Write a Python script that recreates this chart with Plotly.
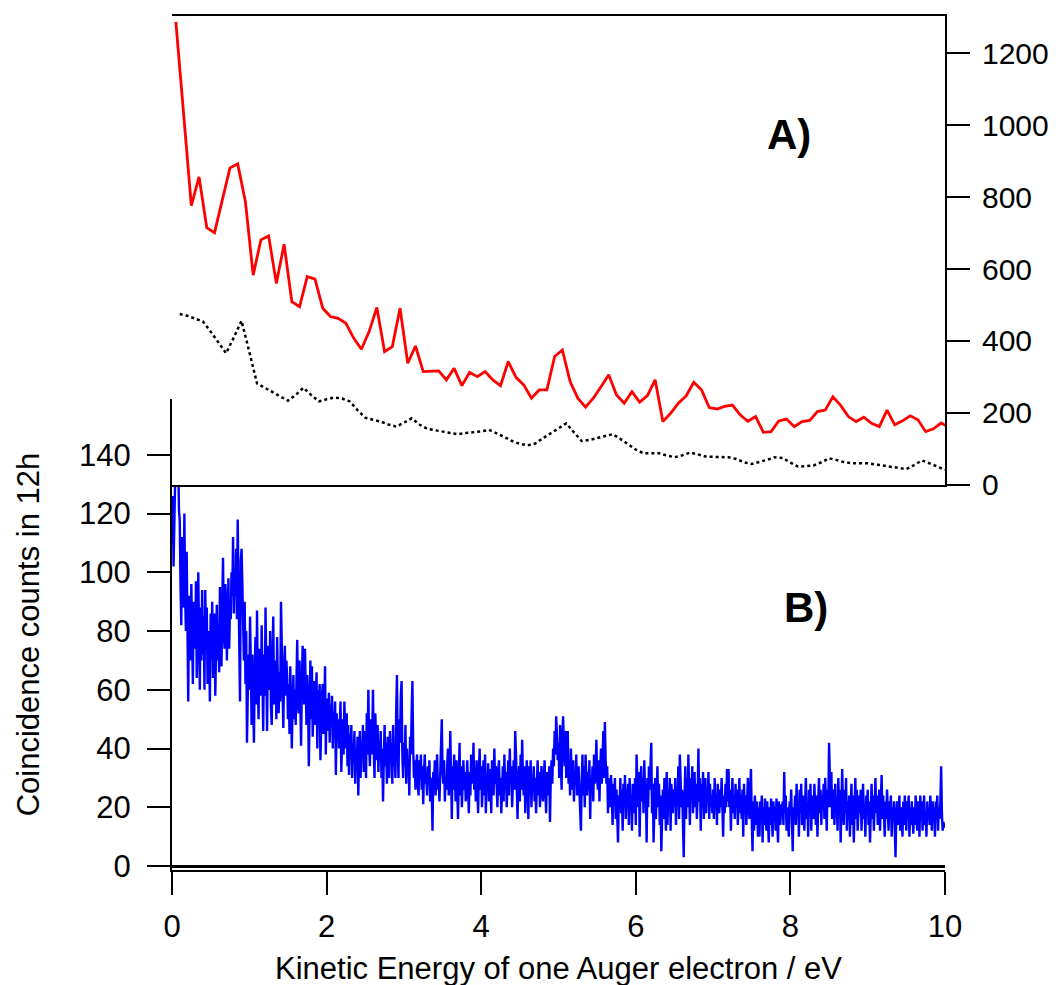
import numpy as np
import plotly.graph_objects as go

# panel B: coincidence counts, 0.01 eV bins starting at 0 (one row = 0.1 eV)
blue_step = 0.01
blue_counts = [
    110, 126, 102, 118, 130, 150, 159, 134, 140, 121,
    118, 96, 82, 112, 104, 88, 120, 92, 80, 107,
    72, 56, 92, 80, 70, 96, 84, 62, 90, 85,
    74, 97, 64, 88, 100, 78, 60, 88, 70, 94,
    72, 85, 60, 94, 76, 88, 62, 80, 74, 56,
    86, 70, 90, 64, 75, 86, 58, 80, 89, 70,
    82, 66, 95, 74, 68, 88, 105, 80, 74, 96,
    90, 70, 82, 98, 74, 88, 84, 100, 92, 112,
    86, 100, 92, 108, 84, 118, 96, 76, 56, 104,
    108, 96, 84, 70, 90, 62, 80, 42, 58, 72,
    60, 85, 68, 48, 72, 54, 42, 66, 78, 55,
    87, 62, 50, 74, 70, 58, 82, 64, 46, 72,
    58, 88, 66, 46, 75, 60, 62, 80, 54, 48,
    70, 85, 55, 64, 70, 50, 78, 62, 52, 66,
    56, 90, 72, 60, 47, 66, 75, 58, 70, 64,
    50, 62, 45, 68, 58, 40, 55, 65, 50, 60,
    48, 72, 77, 55, 52, 70, 44, 41, 62, 75,
    68, 55, 74, 60, 48, 65, 56, 34, 60, 70,
    50, 68, 44, 58, 63, 48, 56, 66, 40, 60,
    52, 62, 36, 55, 58, 62, 45, 52, 68, 38,
    57, 46, 50, 59, 42, 55, 48, 58, 40, 52,
    48, 56, 31, 52, 44, 50, 40, 47, 56, 32,
    44, 50, 38, 56, 46, 40, 52, 34, 48, 31,
    45, 38, 48, 30, 42, 36, 46, 28, 40, 34,
    44, 24, 38, 46, 30, 42, 36, 48, 32, 40,
    46, 30, 52, 38, 60, 42, 34, 50, 38, 44,
    60, 40, 30, 52, 44, 36, 48, 32, 42, 38,
    46, 30, 40, 22, 36, 48, 34, 42, 28, 44,
    38, 30, 46, 36, 42, 28, 48, 34, 40, 30,
    52, 65, 40, 30, 50, 42, 58, 63, 38, 30,
    42, 34, 48, 28, 40, 32, 36, 24, 44, 38,
    52, 63, 40, 30, 36, 26, 34, 38, 28, 24,
    36, 30, 38, 26, 34, 21, 32, 38, 28, 30,
    24, 34, 28, 36, 22, 30, 26, 12, 32, 28,
    36, 24, 32, 38, 26, 30, 22, 34, 44, 50,
    32, 28, 36, 22, 30, 26, 34, 40, 24, 30,
    46, 28, 16, 34, 26, 38, 30, 22, 36, 28,
    16, 30, 42, 24, 34, 20, 28, 36, 26, 32,
    22, 30, 36, 26, 18, 32, 24, 38, 30, 28,
    42, 26, 34, 22, 36, 28, 18, 32, 40, 26,
    34, 20, 28, 36, 24, 38, 18, 30, 26, 35,
    22, 33, 28, 18, 36, 30, 24, 40, 28, 34,
    26, 20, 32, 36, 24, 30, 18, 28, 34, 22,
    38, 26, 32, 20, 30, 36, 24, 40, 28, 34,
    20, 30, 36, 26, 46, 38, 30, 16, 28, 34,
    22, 38, 26, 43, 30, 24, 34, 18, 30, 36,
    28, 16, 34, 24, 36, 20, 30, 26, 34, 22,
    30, 18, 28, 36, 24, 32, 20, 28, 34, 26,
    22, 30, 36, 26, 18, 32, 28, 24, 34, 15,
    30, 36, 28, 40, 34, 46, 38, 51, 44, 36,
    42, 30, 48, 38, 26, 44, 51, 40, 34, 46,
    30, 38, 46, 28, 36, 24, 40, 32, 26, 36,
    22, 32, 28, 38, 24, 30, 34, 26, 20, 12,
    28, 38, 24, 34, 20, 38, 30, 24, 32, 26,
    36, 16, 30, 26, 34, 22, 38, 28, 32, 43,
    30, 26, 36, 22, 34, 40, 28, 38, 46, 30,
    49, 36, 28, 34, 18, 30, 26, 20, 31, 24,
    14, 28, 22, 30, 16, 26, 18, 8, 24, 20,
    30, 18, 26, 12, 28, 20, 31, 16, 26, 22,
    28, 14, 30, 20, 24, 12, 28, 22, 18, 30,
    14, 38, 26, 20, 32, 10, 28, 34, 22, 30,
    18, 36, 24, 28, 8, 30, 20, 34, 26, 38,
    42, 18, 28, 8, 24, 30, 16, 26, 34, 20,
    28, 14, 24, 5, 20, 26, 16, 30, 22, 12,
    32, 14, 26, 20, 30, 12, 28, 24, 18, 26,
    20, 30, 14, 26, 22, 34, 16, 38, 24, 20,
    26, 10, 3, 22, 34, 16, 30, 20, 38, 26,
    14, 30, 22, 34, 18, 26, 32, 20, 28, 16,
    24, 40, 22, 30, 12, 28, 20, 32, 16, 24,
    30, 18, 26, 22, 32, 16, 28, 20, 24, 18,
    26, 16, 30, 20, 24, 14, 28, 22, 18, 26,
    20, 30, 14, 10, 24, 18, 28, 20, 33, 22,
    33, 20, 26, 12, 22, 30, 18, 24, 16, 28,
    20, 26, 14, 22, 30, 18, 24, 16, 26, 10,
    28, 18, 24, 14, 22, 30, 20, 16, 26, 33,
    16, 5, 22, 12, 24, 18, 14, 22, 10, 20,
    10, 22, 16, 24, 8, 20, 14, 23, 18, 12,
    22, 16, 8, 20, 14, 23, 18, 10, 22, 16,
    20, 12, 23, 16, 8, 22, 18, 14, 21, 17,
    22, 14, 32, 18, 24, 12, 20, 16, 10, 22,
    18, 26, 12, 5, 20, 16, 24, 14, 28, 18,
    22, 10, 26, 18, 28, 14, 24, 20, 12, 26,
    30, 16, 22, 10, 26, 18, 28, 12, 24, 20,
    16, 28, 20, 14, 24, 10, 22, 30, 18, 26,
    14, 24, 20, 28, 16, 30, 22, 12, 26, 20,
    42, 28, 20, 32, 16, 26, 22, 14, 28, 18,
    22, 12, 30, 18, 26, 8, 24, 33, 20, 14,
    26, 18, 30, 12, 22, 16, 24, 10, 20, 28,
    14, 24, 8, 22, 30, 16, 26, 12, 20, 24,
    18, 26, 12, 22, 28, 16, 20, 10, 24, 18,
    26, 14, 22, 8, 20, 28, 16, 24, 12, 22,
    30, 18, 24, 14, 20, 26, 12, 22, 31, 16,
    24, 18, 10, 22, 16, 26, 20, 12, 22, 18,
    24, 10, 20, 16, 22, 12, 3, 18, 22, 14,
    16, 24, 12, 20, 18, 10, 22, 14, 24, 18,
    12, 22, 16, 24, 10, 20, 14, 22, 18, 11,
    20, 14, 24, 16, 12, 22, 18, 10, 24, 16,
    22, 12, 20, 24, 14, 18, 10, 22, 16, 20,
    14, 24, 18, 12, 22, 16, 20, 10, 22, 18,
    24, 12, 20, 16, 22, 34, 18, 12, 15, 13,
]
blue_energy = np.arange(len(blue_counts)) * blue_step

# panel A: red spectrum, 0.1 eV bins centred at 0.05 ... 10.05
red_energy = np.round(np.arange(0.05, 10.1, 0.1), 2)
red_counts = [
    1287, 1020, 776, 856, 715, 701, 795, 881, 892, 787,
    583, 681, 692, 560, 669, 509, 495, 579, 572, 491,
    468, 463, 449, 408, 377, 426, 493, 370, 384, 491,
    338, 386, 315, 315, 317, 292, 324, 276, 313, 301,
    315, 292, 276, 343, 299, 278, 241, 264, 264, 357,
    375, 287, 241, 216, 241, 273, 306, 250, 227, 259,
    230, 248, 292, 176, 199, 227, 247, 285, 264, 215,
    211, 218, 222, 195, 177, 190, 146, 148, 178, 183,
    162, 176, 179, 204, 208, 245, 221, 190, 176, 188,
    171, 162, 208, 167, 178, 192, 181, 148, 156, 172,
    160,
]

# panel A: black dotted spectrum, 0.1 ... 10.0 eV
black_energy = np.round(np.arange(0.1, 10.05, 0.1), 2)
black_counts = [
    475, 470, 462, 454, 426, 395, 366, 410, 456, 370,
    282, 270, 258, 245, 234, 250, 270, 250, 232, 238,
    243, 240, 232, 208, 187, 181, 176, 168, 162, 173,
    185, 168, 156, 152, 148, 145, 141, 144, 146, 149,
    153, 144, 133, 122, 114, 110, 115, 130, 143, 156,
    171, 146, 122, 125, 131, 136, 141, 128, 114, 98,
    88, 88, 88, 82, 77, 82, 90, 85, 79, 78,
    77, 77, 72, 63, 58, 63, 70, 77, 75, 62,
    51, 52, 54, 63, 74, 69, 63, 60, 60, 60,
    57, 54, 51, 47, 44, 55, 68, 60, 50, 42,
]

font = "Liberation Sans, Arial, sans-serif"

fig = go.Figure()
fig.add_trace(go.Scatter(x=blue_energy, y=blue_counts, mode="lines",
                         line=dict(color="#0000ff", width=2.4), xaxis="x", yaxis="y"))
fig.add_trace(go.Scatter(x=black_energy, y=black_counts, mode="lines",
                         line=dict(color="black", width=2.5, dash="dot"), xaxis="x2", yaxis="y2"))
fig.add_trace(go.Scatter(x=red_energy, y=red_counts, mode="lines",
                         line=dict(color="#ff0000", width=2.8), xaxis="x2", yaxis="y2"))

# the page body adds an 8 px offset top/left, margins compensate for it
fig.update_layout(
    width=1056, height=985, autosize=False,
    margin=dict(l=164, r=119, t=6, b=123),
    plot_bgcolor="white", paper_bgcolor="white",
    showlegend=False,
    font=dict(family=font, color="black", size=31),
    xaxis=dict(range=[0, 10], domain=[0, 1], anchor="y",
               showline=True, linecolor="black", linewidth=2,
               ticks="outside", ticklen=23, tickwidth=2, tickcolor="black",
               tickvals=[0, 2, 4, 6, 8, 10], showgrid=False, zeroline=False,
               tickfont=dict(size=31), ticklabelstandoff=5,
               title=dict(text="Kinetic Energy of one Auger electron / eV",
                          font=dict(size=31), standoff=14)),
    yaxis=dict(range=[-1.36, 159.0], domain=[0, 0.5514], anchor="x",
               showline=True, linecolor="black", linewidth=2,
               ticks="outside", ticklen=23, tickwidth=2, tickcolor="black",
               tickvals=[0, 20, 40, 60, 80, 100, 120, 140], showgrid=False,
               zeroline=True, zerolinecolor="black", zerolinewidth=3,
               tickfont=dict(size=31), ticklabelstandoff=10,
               title=dict(text="Coincidence counts in 12h", font=dict(size=31), standoff=30)),
    xaxis2=dict(range=[0, 10], domain=[0, 1], anchor="y2", overlaying="x",
                showline=True, mirror=True, linecolor="black", linewidth=2,
                ticks="", showticklabels=False, showgrid=False, zeroline=False),
    yaxis2=dict(range=[0, 1303], domain=[0.4509, 1], anchor="x2", side="right",
                showline=True, linecolor="black", linewidth=2,
                ticks="outside", ticklen=23, tickwidth=2, tickcolor="black",
                tickvals=[0, 200, 400, 600, 800, 1000, 1200], showgrid=False,
                zeroline=False, tickfont=dict(size=30), ticklabelstandoff=6),
    annotations=[
        dict(text="<b>A)</b>", x=7.98, y=975, xref="x2", yref="y2",
             showarrow=False, font=dict(size=42, family=font)),
        dict(text="<b>B)</b>", x=8.2, y=88, xref="x", yref="y",
             showarrow=False, font=dict(size=42, family=font)),
    ],
)

fig.write_html("out.html")
